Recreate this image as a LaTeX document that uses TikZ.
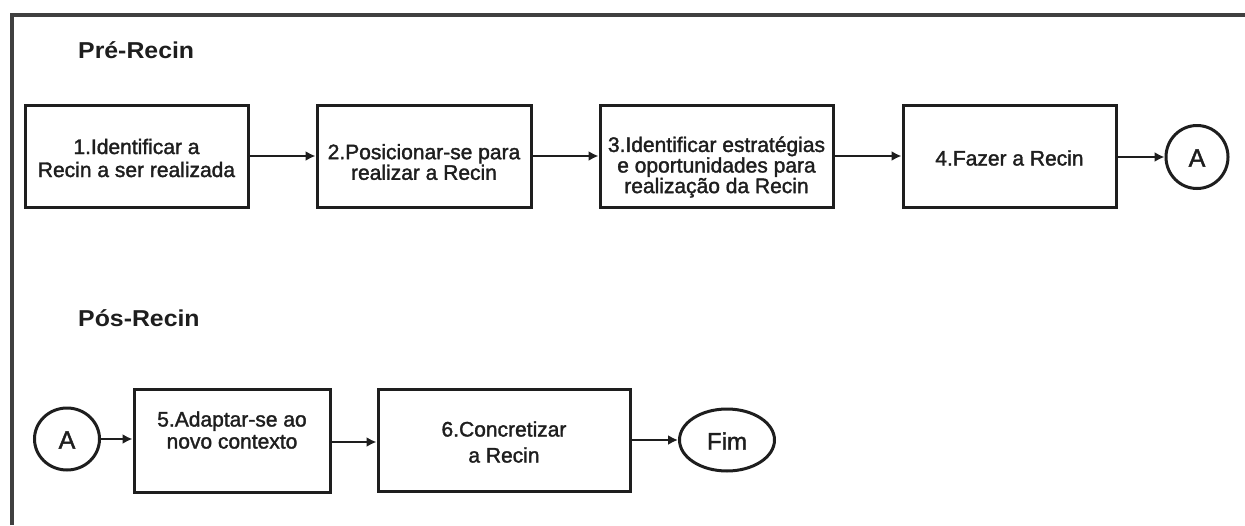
\documentclass[tikz,border=0pt]{standalone}
\usepackage{fontspec}
\setmainfont{Liberation Sans}
\newfontfamily\boxfont[FakeBold=1.6]{Liberation Sans}
\newfontfamily\headfont[FakeStretch=1.08]{Liberation Sans}
\usetikzlibrary{arrows.meta,shapes.geometric}
\definecolor{ink}{HTML}{1E1E1E}
\begin{document}
\begin{tikzpicture}[x=1pt,y=-1pt,
  stepbox/.style={draw=ink,line width=3pt,rectangle,minimum height=102pt,inner sep=0pt},
  txt/.style={align=center,text=ink,font=\boxfont\fontsize{21}{23}\selectfont,inner sep=0pt},
  head/.style={anchor=west,text=ink,font=\headfont\bfseries\fontsize{23}{26}\selectfont,inner sep=0pt},
  conn/.style={draw=ink,line width=3pt,ellipse,inner sep=0pt},
  flow/.style={draw=ink,line width=2.8pt,-{Latex[length=10pt,width=10pt]}}]
\useasboundingbox (0,0) rectangle (1245,525);
\fill[white] (0,0) rectangle (1245,525);
% outer frame
\coordinate (fa) at (12,525);
\coordinate (fb) at (12,15);
\coordinate (fc) at (1245,15);
\draw[draw=ink!85,line width=3.2pt] (fa) -- (fb) -- (fc);
% headers
\node[head] (pre) at (78,50) {Pré-Recin};
\node[head] (pos) at (78,318) {Pós-Recin};
% top row
\node[stepbox,minimum width=223pt] (b1) at (136.5,156) {};
\node[txt,font=\boxfont\fontsize{21}{23}\selectfont] (t1) at (136.5,158) {1.Identificar a\\Recin a ser realizada};
\node[stepbox,minimum width=214pt] (b2) at (424,156) {};
\node[txt,font=\boxfont\fontsize{21}{19}\selectfont] (t2) at (424,162) {2.Posicionar-se para\\realizar a Recin};
\node[stepbox,minimum width=233pt] (b3) at (716.5,156) {};
\node[txt,font=\boxfont\fontsize{21}{18.5}\selectfont] (t3) at (716.5,167) {3.Identificar estratégias\\e oportunidades para\\realização da Recin};
\node[stepbox,minimum width=213pt] (b4) at (1009.5,156) {};
\node[txt] (t4) at (1009.5,158) {4.Fazer a Recin};
\node[conn,minimum width=62pt,minimum height=63pt] (a1) at (1197,157) {};
\node[txt,font=\boxfont\fontsize{25}{28}\selectfont] (a1t) at (1197,158) {A};
\draw[flow] (b1) -- (b2);
\draw[flow] (b2) -- (b3);
\draw[flow] (b3) -- (b4);
\draw[flow] (b4.east |- a1.west) -- (a1.west);
% bottom row
\node[conn,minimum width=65pt,minimum height=62pt] (a2) at (67,439) {};
\node[txt,font=\boxfont\fontsize{25}{28}\selectfont] (a2t) at (67,440) {A};
\node[stepbox,minimum width=196pt,minimum height=103pt] (b5) at (232,440.5) {};
\node[txt,font=\boxfont\fontsize{21}{22}\selectfont] (t5) at (232,430) {5.Adaptar-se ao\\novo contexto};
\node[stepbox,minimum width=252pt] (b6) at (504,440) {};
\node[txt,font=\boxfont\fontsize{21}{26}\selectfont] (t6) at (504,442) {6.Concretizar\\a Recin};
\node[conn,minimum width=95pt,minimum height=62pt] (fim) at (727,440) {};
\node[txt,font=\boxfont\fontsize{24}{26}\selectfont] (fimt) at (727,441) {Fim};
\draw[flow] (a2.east) -- (a2.east -| b5.west);
\draw[flow] (b5.east |- 0,442) -- (b6.west |- 0,442);
\draw[flow] (b6.east |- fim.west) -- (fim.west);
\end{tikzpicture}
\end{document}
